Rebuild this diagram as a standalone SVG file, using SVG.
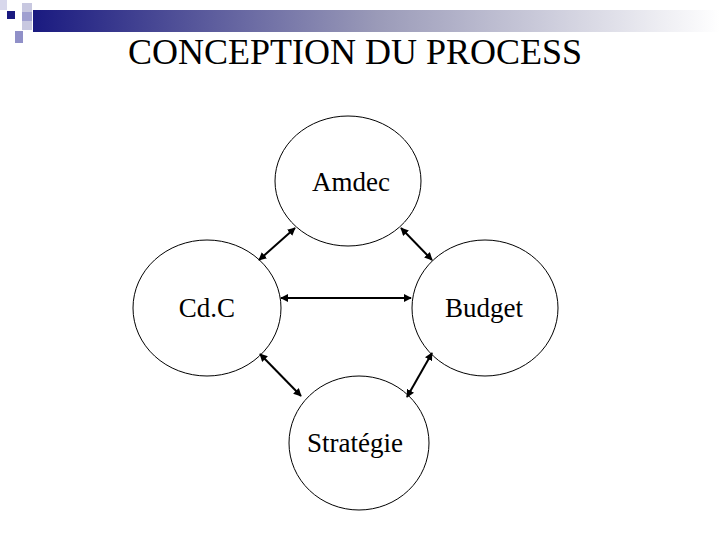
<svg xmlns="http://www.w3.org/2000/svg" width="720" height="540" viewBox="0 0 720 540">
<defs>
<linearGradient id="g" x1="0" x2="1"><stop offset="0" stop-color="#1a1a80"/><stop offset="0.5" stop-color="#9a9ab8"/><stop offset="1" stop-color="#ffffff"/></linearGradient>
<marker id="a" viewBox="0 0 10 10" refX="9" refY="5" markerWidth="4" markerHeight="4" orient="auto-start-reverse"><path d="M0,0L10,5L0,10z" fill="#000"/></marker>
<style>.n{fill:#fff;stroke:#000;stroke-width:1}.t{font-family:"Liberation Serif",serif;font-size:27px;font-weight:normal;text-anchor:middle}.c{stroke:#000;stroke-width:2;marker-start:url(#a);marker-end:url(#a)}</style>
</defs>
<rect width="720" height="540" fill="#fff"/>
<g id="decor">
<rect x="33" y="10" width="687" height="22" fill="url(#g)"/>
<rect x="7" y="11" width="8" height="8" fill="#1a1a80"/>
<rect x="22" y="3" width="10" height="9" fill="#c8c8e0"/>
<rect x="22" y="12" width="10" height="9" fill="#a0a0d0"/>
<rect x="22" y="21" width="10" height="9" fill="#c8c8e0"/>
<rect x="15" y="31" width="8" height="12" fill="#9090c8"/>
<rect x="0" y="0" width="7" height="10" fill="#d8d8ec"/>
</g>
<text class="t" x="355" y="64" style="font-size:36px">CONCEPTION DU PROCESS</text>
<g id="amdec"><ellipse class="n" cx="348" cy="181" rx="73" ry="65"/><text class="t" x="351" y="191">Amdec</text></g>
<g id="cdc"><ellipse class="n" cx="207" cy="308" rx="74" ry="68"/><text class="t" x="207" y="317">Cd.C</text></g>
<g id="budget"><ellipse class="n" cx="485" cy="308" rx="73" ry="68"/><text class="t" x="484" y="317">Budget</text></g>
<g id="strategie"><ellipse class="n" cx="359" cy="443" rx="70" ry="67"/><text class="t" x="355" y="452">Stratégie</text></g>
<g id="connectors">
<line class="c" x1="295" y1="228" x2="259" y2="260"/>
<line class="c" x1="401" y1="228" x2="432" y2="260"/>
<line class="c" x1="281" y1="298" x2="411" y2="298"/>
<line class="c" x1="260" y1="354" x2="301" y2="396"/>
<line class="c" x1="432" y1="353" x2="407" y2="397"/>
</g>
</svg>
